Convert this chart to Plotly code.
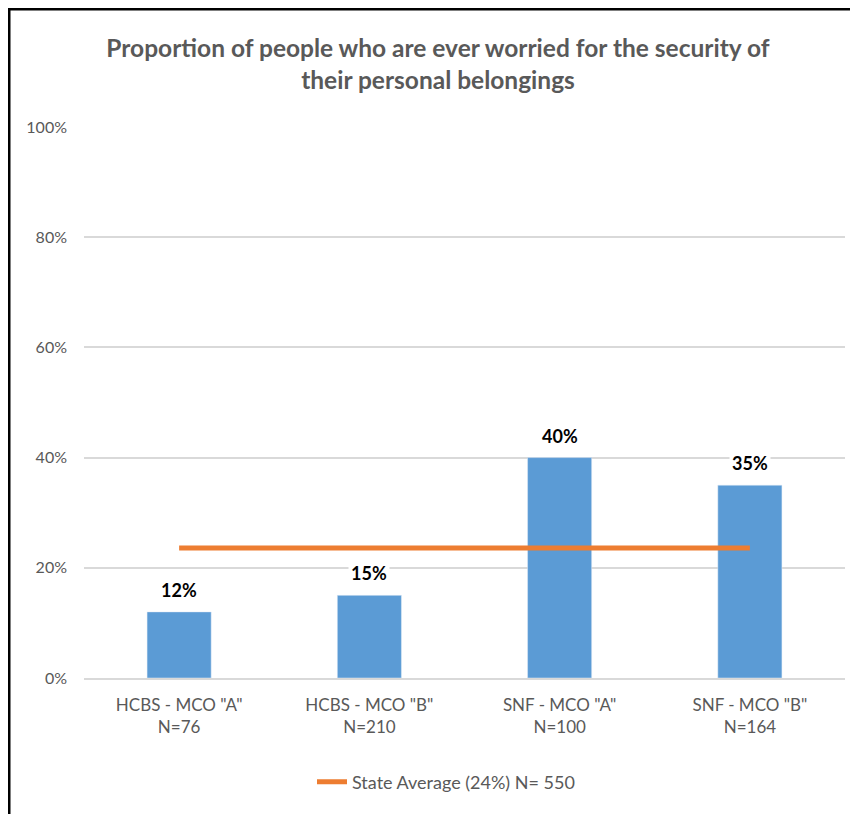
import plotly.graph_objects as go

categories = ['HCBS - MCO "A"<br>N=76', 'HCBS - MCO "B"<br>N=210',
              'SNF - MCO "A"<br>N=100', 'SNF - MCO "B"<br>N=164']
values = [0.12, 0.15, 0.40, 0.35]
value_labels = ["12%", "15%", "40%", "35%"]
state_avg = [0.236, 0.236, 0.236, 0.236]
state_name = "State Average (24%) N= 550"
y_ticks = [0, 0.2, 0.4, 0.6, 0.8, 1.0]
y_tick_labels = ["0%", "20%", "40%", "60%", "80%", "100%"]

FONT = "Lato, Open Sans, sans-serif"

fig = go.Figure()
fig.add_trace(go.Bar(x=categories, y=values, marker_color="#5b9bd5",
                     width=0.337, showlegend=False, hoverinfo="skip"))
fig.add_trace(go.Scatter(x=categories, y=state_avg, mode="lines",
                         line=dict(color="#ed7d31", width=5),
                         name=state_name))

for c, v, t in zip(categories, values, value_labels):
    fig.add_annotation(x=c, y=v, text="<b>%s</b>" % t, showarrow=False,
                       yanchor="bottom", yshift=8, bgcolor="white",
                       font=dict(family=FONT, size=18, color="#000000"),
                       borderpad=2)

# page has an 8px body margin; positions below are in figure pixels
L = 76.0; W = 761.0; B = 670.0; H = 551.0
def px(x): return (x - L) / W
def py(y): return (B - y) / H
fig.add_shape(type="line", xref="paper", yref="paper",
              x0=px(0), x1=px(870), y0=py(1), y1=py(1),
              line=dict(color="black", width=3))
fig.add_shape(type="line", xref="paper", yref="paper",
              x0=px(1), x1=px(1), y0=py(0), y1=py(830),
              line=dict(color="black", width=3))

fig.update_layout(
    width=850, height=806,
    margin=dict(l=76, r=13, t=119, b=136),
    paper_bgcolor="white", plot_bgcolor="white",
    title=dict(text="<b>Proportion of people who are ever worried for the security of<br>their personal belongings</b>",
               x=0.5 + 5.0 / 850, xanchor="center", y=1 - 49.0 / 806, yanchor="middle",
               font=dict(family=FONT, size=24.5, color="#595959")),
    font=dict(family=FONT, size=17, color="#595959"),
    xaxis=dict(showgrid=False, showline=True, linecolor="#d9d9d9", linewidth=1.5,
               ticks="", tickfont=dict(size=17, color="#595959"),
               ticklabelstandoff=11, fixedrange=True),
    yaxis=dict(range=[0, 1], tickvals=y_ticks, ticktext=y_tick_labels,
               showgrid=True, gridcolor="#d9d9d9", gridwidth=1.5,
               zeroline=False, showline=False, ticks="",
               tickfont=dict(size=16, color="#595959"), ticklabelstandoff=16),
    legend=dict(orientation="h", x=px(438), xanchor="center", y=py(774), yanchor="middle",
                font=dict(size=18, color="#595959")),
)

fig.write_html("out.html")
